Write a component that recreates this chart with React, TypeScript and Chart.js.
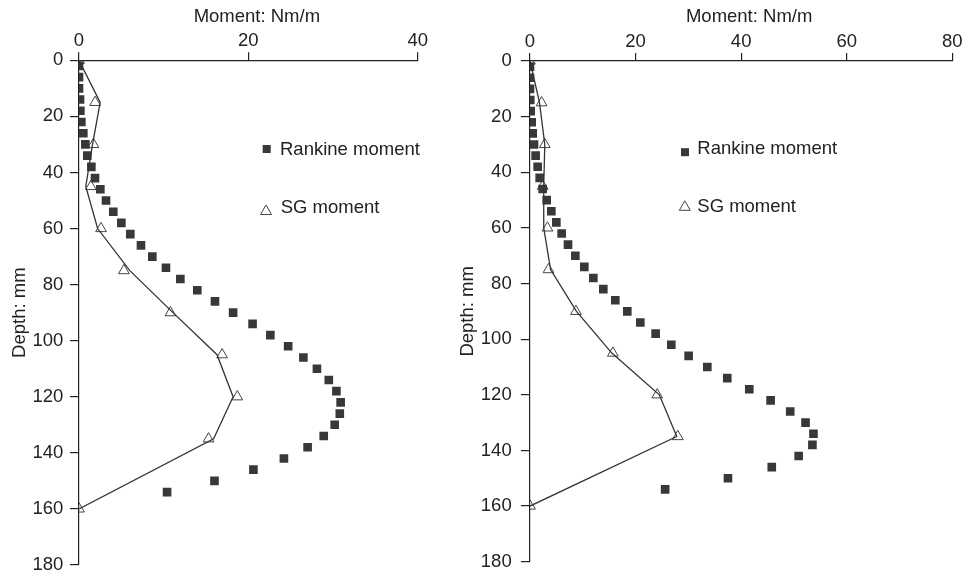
import React, { useEffect, useRef } from "react";
import { Chart, registerables } from "chart.js";

Chart.register(...registerables);

// ---- data ----
const rankineDepth = [
  2, 6, 10, 14, 18, 22, 26, 30, 34, 38, 42, 46, 50, 54, 58, 62, 66, 70, 74, 78,
  82, 86, 90, 94, 98, 102, 106, 110, 114, 118, 122, 126, 130, 134, 138, 142, 146, 150, 154,
];
const sgDepth = [0, 15, 30, 45, 60, 75, 90, 105, 120, 135, 160];

const leftRankine = [
  0, 0, 0, 0.12, 0.16, 0.28, 0.51, 0.75, 0.98, 1.46, 1.89, 2.52, 3.19, 4.05, 5.0,
  6.06, 7.32, 8.66, 10.27, 11.97, 13.97, 16.06, 18.2, 20.5, 22.6, 24.7, 26.5, 28.1,
  29.5, 30.4, 30.9, 30.8, 30.2, 28.9, 27.0, 24.2, 20.6, 16.0, 10.4,
];
const leftSgPoints = [0, 1.9, 1.7, 1.4, 2.6, 5.3, 10.8, 16.9, 18.7, 15.3, 0];
const leftSgLine = [0, 2.5, 1.6, 0.8, 2.2, 6.0, 11.1, 16.3, 18.2, 15.9, 0];

const rightRankine = [
  0, 0, 0, 0.05, 0.13, 0.32, 0.51, 0.76, 1.07, 1.45, 1.83, 2.4, 3.16, 4.04, 4.99,
  6.0, 7.2, 8.59, 10.29, 12.0, 13.89, 16.16, 18.43, 20.9, 23.8, 26.77, 30.05, 33.59,
  37.37, 41.54, 45.58, 49.3, 52.2, 53.7, 53.5, 50.9, 45.8, 37.5, 25.6,
];
const rightSgPoints = [0, 2.2, 2.8, 2.4, 3.3, 3.5, 8.7, 15.7, 24.1, 28.0, 0];
const rightSgLine = [0, 1.8, 2.8, 2.6, 2.6, 3.9, 8.8, 15.5, 24.5, 27.8, 0];

const leftMomentTicks = [0, 20, 40];
const rightMomentTicks = [0, 20, 40, 60, 80];
const depthTicks = [0, 20, 40, 60, 80, 100, 120, 140, 160, 180];

const seriesNames = ["Rankine moment", "SG moment"];
const xTitle = "Moment: Nm/m";
const yTitle = "Depth: mm";

const FONT = 'Arial, "Liberation Sans", Helvetica, sans-serif';
const TEXT = "#222";
const AXIS = "#222";
const MARK = "#383838";

type PanelLayout = {
  left: number;
  width: number;
  height: number;
  pad: { left: number; top: number; right: number; bottom: number };
  yWidth: number;
  xHeight: number;
  yTickPad: number;
  xTitleShift: number;
  legend: { sq: [number, number]; t1: [number, number]; tri: [number, number]; t2: [number, number] };
};

type PanelProps = {
  rankine: number[];
  sgPts: number[];
  sgLine: number[];
  xTicks: number[];
  layout: PanelLayout;
};

function Panel({ rankine, sgPts, sgLine, xTicks, layout }: PanelProps) {
  const ref = useRef<HTMLCanvasElement | null>(null);

  useEffect(() => {
    if (!ref.current) return;
    const lg = layout.legend;
    const textPlugin = {
      id: "insideLegend",
      afterDraw(chart: any) {
        const ctx = chart.ctx;
        const area = chart.chartArea;
        ctx.save();
        // x-axis title (top)
        ctx.font = `18.5px ${FONT}`;
        ctx.fillStyle = TEXT;
        ctx.textAlign = "center";
        ctx.textBaseline = "middle";
        ctx.fillText(xTitle, (area.left + area.right) / 2 + layout.xTitleShift, 16.7);
        // legend
        ctx.fillStyle = MARK;
        ctx.fillRect(lg.sq[0] - 4, lg.sq[1] - 4, 8, 8);
        ctx.strokeStyle = "#444";
        ctx.lineWidth = 1;
        ctx.beginPath();
        ctx.moveTo(lg.tri[0], lg.tri[1] - 5.5);
        ctx.lineTo(lg.tri[0] + 5.5, lg.tri[1] + 4);
        ctx.lineTo(lg.tri[0] - 5.5, lg.tri[1] + 4);
        ctx.closePath();
        ctx.stroke();
        ctx.fillStyle = TEXT;
        ctx.textAlign = "left";
        ctx.fillText(seriesNames[0], lg.t1[0], lg.t1[1]);
        ctx.fillText(seriesNames[1], lg.t2[0], lg.t2[1]);
        ctx.restore();
      },
    };

    const chart = new Chart(ref.current, {
      type: "scatter",
      data: {
        datasets: [
          {
            label: seriesNames[1] + " line",
            data: sgDepth.map((d, i) => ({ x: sgLine[i], y: d })),
            showLine: true,
            borderColor: "#333",
            borderWidth: 1.3,
            pointRadius: 0,
            fill: false,
          },
          {
            label: seriesNames[0],
            data: rankineDepth.map((d, i) => ({ x: rankine[i], y: d })),
            pointStyle: "rect",
            pointRadius: 6.1,
            backgroundColor: MARK,
            borderColor: MARK,
            borderWidth: 0,
          },
          {
            label: seriesNames[1],
            data: sgDepth.map((d, i) => ({ x: sgPts[i], y: d })),
            pointStyle: "triangle",
            pointRadius: 6.2,
            backgroundColor: "rgba(255,255,255,0)",
            borderColor: "#444",
            borderWidth: 1,
          },
        ],
      },
      options: {
        animation: false,
        responsive: false,
        maintainAspectRatio: false,
        layout: { padding: layout.pad },
        plugins: { legend: { display: false }, tooltip: { enabled: false } },
        scales: {
          x: {
            type: "linear",
            position: "top",
            min: xTicks[0],
            max: xTicks[xTicks.length - 1],
            afterBuildTicks: (s: any) => {
              s.ticks = xTicks.map((v) => ({ value: v }));
            },
            afterFit: (s: any) => {
              s.height = layout.xHeight;
            },
            ticks: { font: { size: 18.5, family: FONT }, color: TEXT, padding: 0, maxRotation: 0 },
            grid: { drawOnChartArea: false, drawTicks: true, tickLength: 8, color: AXIS, lineWidth: 1.2 },
            border: { display: true, color: AXIS, width: 1.2 },
            title: { display: false },
          },
          y: {
            type: "linear",
            reverse: true,
            min: depthTicks[0],
            max: depthTicks[depthTicks.length - 1],
            afterBuildTicks: (s: any) => {
              s.ticks = depthTicks.map((v) => ({ value: v }));
            },
            afterFit: (s: any) => {
              s.width = layout.yWidth;
            },
            ticks: { font: { size: 18.5, family: FONT, lineHeight: 0.9 }, color: TEXT, padding: layout.yTickPad },
            grid: { drawOnChartArea: false, drawTicks: true, tickLength: 9, color: AXIS, lineWidth: 1.2 },
            border: { display: true, color: AXIS, width: 1.2 },
            title: {
              display: true,
              text: yTitle,
              color: TEXT,
              font: { size: 18.5, family: FONT, lineHeight: 0.9 },
              padding: { top: 0, bottom: 0 },
            },
          },
        },
      } as any,
      plugins: [textPlugin],
    });
    return () => chart.destroy();
  }, []);

  return (
    <canvas
      ref={ref}
      width={layout.width}
      height={layout.height}
      style={{ position: "absolute", left: layout.left, top: 0, width: layout.width, height: layout.height }}
    />
  );
}

const leftLayout: PanelLayout = {
  left: 0,
  width: 460,
  height: 600,
  pad: { left: 11.7, top: 0, right: 42.3, bottom: 35 },
  yWidth: 67.3,
  xHeight: 60.3,
  yTickPad: 6.7,
  xTitleShift: 8.5,
  legend: { sq: [266.7, 149], t1: [280, 150], tri: [266, 210.5], t2: [280.7, 208.3] },
};

const rightLayout: PanelLayout = {
  left: 460,
  width: 520,
  height: 600,
  pad: { left: 0, top: 0, right: 27.7, bottom: 38.3 },
  yWidth: 70,
  xHeight: 61,
  yTickPad: 9.3,
  xTitleShift: 8,
  legend: { sq: [225, 152.2], t1: [237.3, 148.8], tri: [224.8, 206.3], t2: [237.3, 206.7] },
};

export default function App() {
  return (
    <div
      style={{
        position: "absolute",
        left: 0,
        top: 0,
        width: 964,
        height: 573,
        overflow: "hidden",
        background: "#fff",
      }}
    >
      <Panel rankine={leftRankine} sgPts={leftSgPoints} sgLine={leftSgLine} xTicks={leftMomentTicks} layout={leftLayout} />
      <Panel rankine={rightRankine} sgPts={rightSgPoints} sgLine={rightSgLine} xTicks={rightMomentTicks} layout={rightLayout} />
    </div>
  );
}
